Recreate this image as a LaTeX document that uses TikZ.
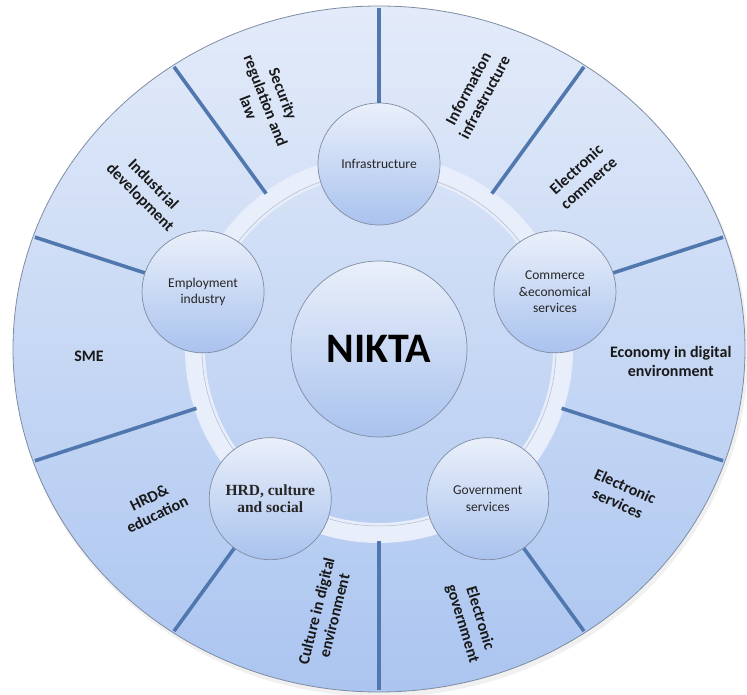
\documentclass[tikz,border=0pt]{standalone}
\usepackage{fontspec}
\setmainfont{Carlito}
\newfontfamily\hrdfont{Liberation Serif}
\definecolor{diskTop}{HTML}{E3EBF9}
\definecolor{diskBot}{HTML}{ABC5F0}
\definecolor{ringCol}{HTML}{E9EFFA}
\definecolor{spokeCol}{HTML}{5078AE}
\definecolor{rimCol}{HTML}{7F8CA3}
\definecolor{ballTop}{HTML}{EAF0FA}
\definecolor{ballBot}{HTML}{A9C2EE}
\tikzset{
  ball/.style={circle, draw=rimCol, line width=.7pt, top color=ballTop, bottom color=ballBot,
    minimum size=122pt, inner sep=0pt, align=center, text=black!85,
    font=\fontsize{13.5}{16.5}\selectfont},
  spoke/.style={draw=spokeCol, line width=3.6pt},
  sector/.style={align=center, text=black!90, font=\fontsize{16}{18.5}\selectfont\bfseries}
}
\begin{document}
\begin{tikzpicture}[x=1pt,y=1pt]
  \useasboundingbox (-379,-346) rectangle (368,349);
  % soft shadow under the disc
  \fill[black!30, opacity=.2] (2,-4) ellipse [x radius=367, y radius=344];
  % outer disc
  \shade[top color=diskTop, bottom color=diskBot, draw=rimCol, line width=.8pt]
    (0,0) ellipse [x radius=366, y radius=343];
  % light band through the satellites
  \draw[ringCol!60!diskTop, line width=20pt] (0,0) circle (184);
  \draw[ringCol, line width=14pt] (0,0) circle (184);
  \draw[rimCol!60, line width=.5pt] (0,0) circle (177);

  % spokes between the sectors
  \foreach \a in {54,126,198,270,342}{%
    \pgfmathsetmacro\r{0.995*366/sqrt(cos(\a)^2+1.1386*sin(\a)^2)}
    \coordinate (in\a) at (\a:192);
    \coordinate (out\a) at (\a:\r);
    \draw[spoke] (in\a) -- (out\a);
  }

  % centre and satellites
  \node[ball, minimum size=176pt, font=\fontsize{42}{42}\selectfont\bfseries, text=black] (nikta) at (0,0) {NIKTA};
  \node[ball] (infra) at (90:185) {Infrastructure};
  \node[ball] (commerce) at (18:185) {Commerce\\\&economical\\services};
  \node[ball] (gov) at (306:185) {Government\\services};
  \node[ball, font=\hrdfont\bfseries\fontsize{15.5}{16.5}\selectfont] (hrd) at (234:185) {HRD, culture\\and social};
  \node[ball] (employ) at (162:185) {Employment\\industry};

  % spokes from each satellite out to the rim
  \foreach \a/\n in {90/infra,18/commerce,306/gov,234/hrd,162/employ}{%
    \pgfmathsetmacro\r{0.995*366/sqrt(cos(\a)^2+1.1386*sin(\a)^2)}
    \coordinate (rim\n) at (\a:\r);
    \draw[spoke] (\n.\a) -- (rim\n);
  }

  % sector labels
  \node[sector, rotate=-69] (security) at (114.5:273) {Security\\regulation and\\law};
  \node[sector, rotate=62] (infoinfra) at (69.2:274) {Information\\infrastructure};
  \node[sector, rotate=42] (ecommerce) at (40.4:267) {Electronic\\commerce};
  \node[sector] (economy) at (-2.4:292) {Economy in digital\\environment};
  \node[sector, rotate=-24] (eservices) at (-31:283) {Electronic\\services};
  \node[sector, rotate=-73] (egov) at (-71.3:287) {Electronic\\government};
  \node[sector, rotate=76] (culture) at (258.5:270) {Culture in digital\\environment};
  \node[sector, rotate=26] (hrdedu) at (214.8:275) {HRD\&\\education};
  \node[sector] (sme) at (181.4:290) {SME};
  \node[sector, rotate=-45] (industrial) at (145.9:281) {Industrial\\development};
\end{tikzpicture}
\end{document}
